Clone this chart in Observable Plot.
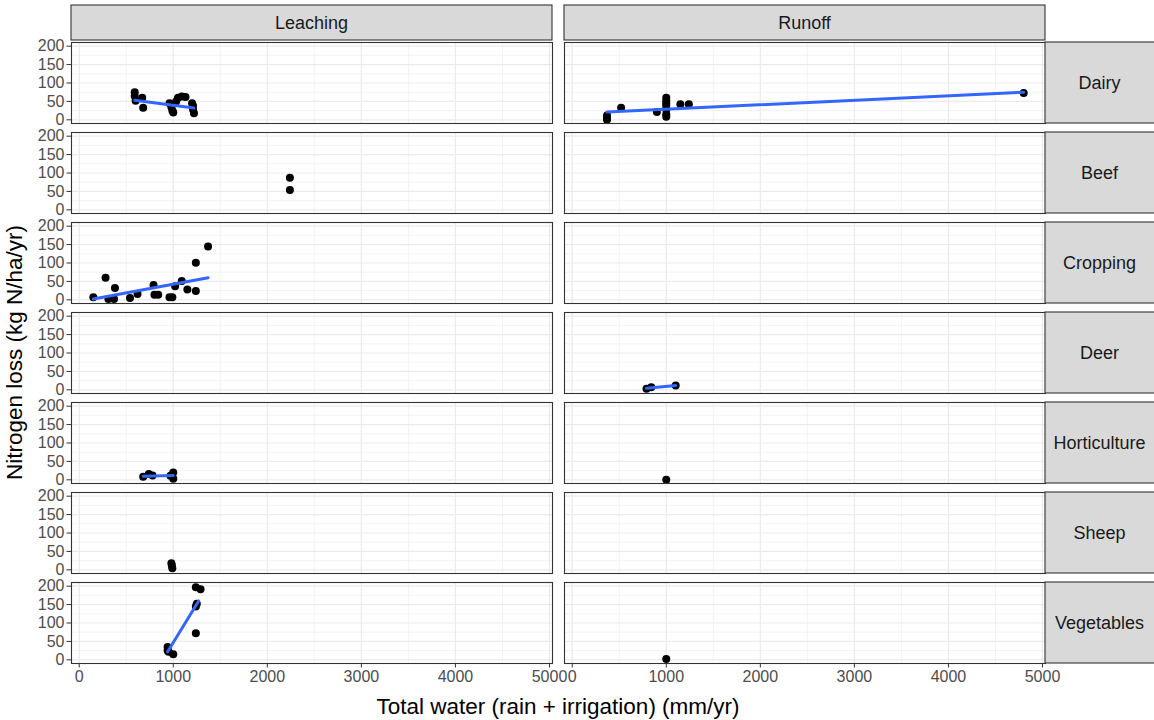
<!DOCTYPE html>
<html><head><meta charset="utf-8">
<script src="https://cdn.jsdelivr.net/npm/d3@7"></script>
<script src="https://cdn.jsdelivr.net/npm/@observablehq/plot@0.6"></script>
<style>
body{margin:0;background:#fff}
#chart{width:1154px;height:720px;position:relative}
svg{overflow:visible}
</style>
</head><body><div id="chart"></div>
<script>
// ---- categories and ticks ----
const lossTypes = ["Leaching", "Runoff"];
const systems = ["Dairy", "Beef", "Cropping", "Deer", "Horticulture", "Sheep", "Vegetables"];
const xTicks = [0, 1000, 2000, 3000, 4000, 5000];
const xMinorTicks = [500, 1500, 2500, 3500, 4500];
const yTicks = [0, 50, 100, 150, 200];
const yMinorTicks = [25, 75, 125, 175];
const xTitle = "Total water (rain + irrigation) (mm/yr)";
const yTitle = "Nitrogen loss (kg N/ha/yr)";

// ---- observations [total water, N loss] ----
const dairyLeaching = [[590,75],[590,65],[600,52],[670,60],[680,33],[960,45],[980,35],[990,25],[1000,20],[1030,50],[1050,60],[1090,63],[1130,62],[1200,45],[1210,38],[1210,28],[1220,18]];
const dairyRunoff = [[370,0],[370,5],[370,12],[520,33],[900,21],[1000,60],[1000,52],[1000,45],[1000,38],[1000,28],[1000,15],[1000,8],[1150,42],[1240,42],[4800,73]];
const beefLeaching = [[2240,87],[2240,54]];
const croppingLeaching = [[150,7],[280,60],[310,2],[370,2],[380,32],[540,5],[620,16],[790,40],[800,14],[840,14],[960,7],[990,7],[1020,37],[1090,51],[1150,28],[1240,101],[1240,24],[1370,145]];
const deerRunoff = [[790,3],[840,7],[1100,12]];
const horticultureLeaching = [[680,8],[740,16],[780,12],[970,11],[1000,20],[1000,3]];
const horticultureRunoff = [[1000,0]];
const sheepLeaching = [[980,18],[985,12],[990,4]];
const vegetablesLeaching = [[940,35],[940,25],[950,22],[1000,15],[1240,72],[1240,145],[1250,152],[1240,197],[1290,192]];
const vegetablesRunoff = [[1000,2]];

// ---- fitted linear trends (end points) ----
const dairyLeachingFit = [[590,53],[1220,32]];
const dairyRunoffFit = [[370,21],[4800,75]];
const croppingLeachingFit = [[150,2],[1370,60]];
const deerRunoffFit = [[790,4],[1100,12]];
const horticultureLeachingFit = [[680,10],[1000,12]];
const vegetablesLeachingFit = [[940,22],[1270,160]];

const pointSets = [
  ["Leaching","Dairy",dairyLeaching],["Runoff","Dairy",dairyRunoff],
  ["Leaching","Beef",beefLeaching],["Leaching","Cropping",croppingLeaching],
  ["Runoff","Deer",deerRunoff],["Leaching","Horticulture",horticultureLeaching],
  ["Runoff","Horticulture",horticultureRunoff],["Leaching","Sheep",sheepLeaching],
  ["Leaching","Vegetables",vegetablesLeaching],["Runoff","Vegetables",vegetablesRunoff]
];
const fitSets = [
  ["Leaching","Dairy",dairyLeachingFit],["Runoff","Dairy",dairyRunoffFit],
  ["Leaching","Cropping",croppingLeachingFit],["Runoff","Deer",deerRunoffFit],
  ["Leaching","Horticulture",horticultureLeachingFit],["Leaching","Vegetables",vegetablesLeachingFit]
];
const points = pointSets.flatMap(([type, system, arr]) => arr.map(([water, loss]) => ({type, system, water, loss})));
const fits = fitSets.flatMap(([type, system, arr]) => arr.map(([water, loss]) => ({id: type + system, type, system, water, loss})));

const cells = lossTypes.flatMap(type => systems.map(system => ({type, system})));
const gridOf = vals => cells.flatMap(c => vals.map(v => ({...c, v})));

const font = "'Liberation Sans', Arial, sans-serif";
const W = 1154, H = 720, mL = 71, mR = 109, mT = 40, mB = 55;

const plot = Plot.plot({
  width: W, height: H,
  marginTop: mT, marginRight: mR, marginBottom: mB, marginLeft: mL,
  style: {fontFamily: font, background: "#fff", overflow: "visible"},
  fx: {domain: lossTypes, paddingInner: 0.0245, paddingOuter: 0, axis: null, label: null},
  fy: {domain: systems, paddingInner: 0.1, paddingOuter: 0, axis: null, label: null},
  x: {domain: [-82, 5032], label: null},
  y: {domain: [-10, 210], label: null},
  marks: [
    Plot.ruleX(gridOf(xMinorTicks), {x: "v", fx: "type", fy: "system", stroke: "#ebebeb", strokeWidth: 0.6}),
    Plot.ruleY(gridOf(yMinorTicks), {y: "v", fx: "type", fy: "system", stroke: "#ebebeb", strokeWidth: 0.6}),
    Plot.ruleX(gridOf(xTicks), {x: "v", fx: "type", fy: "system", stroke: "#ebebeb", strokeWidth: 1.2}),
    Plot.ruleY(gridOf(yTicks), {y: "v", fx: "type", fy: "system", stroke: "#ebebeb", strokeWidth: 1.2}),
    Plot.dot(points, {x: "water", y: "loss", fx: "type", fy: "system", r: 4, fill: "#000", stroke: null}),
    Plot.line(fits, {x: "water", y: "loss", z: "id", fx: "type", fy: "system", stroke: "#3366FF", strokeWidth: 3}),
    Plot.frame({stroke: "#333333", strokeWidth: 1.1}),
    Plot.axisX({anchor: "bottom", facetAnchor: "bottom", ticks: xTicks, tickFormat: "d", label: null,
      tickSize: 4.5, tickPadding: 3, fontSize: 16, fill: "#4d4d4d", stroke: "#333333"}),
    Plot.axisY({anchor: "left", facetAnchor: "left", ticks: yTicks, tickFormat: "d", label: null,
      tickSize: 4.5, tickPadding: 2.5, fontSize: 16, fill: "#4d4d4d", stroke: "#333333"})
  ]
});

document.getElementById("chart").appendChild(plot);

// ---- facet strips and axis titles ----
function bandInfo(name, domain, range, pin) {
  const s = plot.scale(name);
  if (s && typeof s.apply === "function" && s.bandwidth != null) return {pos: v => s.apply(v), bw: s.bandwidth};
  const b = d3.scaleBand().domain(domain).range(range).paddingInner(pin).paddingOuter(0);
  return {pos: v => b(v), bw: b.bandwidth()};
}
const FX = bandInfo("fx", lossTypes, [mL, W - mR], 0.0245);
const FY = bandInfo("fy", systems, [mT, H - mB], 0.1);
const svg = d3.select(plot);
const strips = svg.append("g").attr("font-family", font);
for (const t of lossTypes) {
  const x0 = FX.pos(t);
  strips.append("rect").attr("x", x0).attr("y", 5).attr("width", FX.bw).attr("height", mT - 5)
    .attr("fill", "#d9d9d9").attr("stroke", "#333333").attr("stroke-width", 1.1);
  strips.append("text").attr("x", x0 + FX.bw / 2).attr("y", (5 + mT) / 2).attr("dy", "0.35em")
    .attr("text-anchor", "middle").attr("font-size", 18).attr("fill", "#1a1a1a").text(t);
}
const xRight = FX.pos("Runoff") + FX.bw;
for (const s of systems) {
  const y0 = FY.pos(s);
  strips.append("rect").attr("x", xRight).attr("y", y0).attr("width", W - xRight + 2).attr("height", FY.bw)
    .attr("fill", "#d9d9d9").attr("stroke", "#333333").attr("stroke-width", 1.1);
  strips.append("text").attr("x", (xRight + W) / 2).attr("y", y0 + FY.bw / 2).attr("dy", "0.35em")
    .attr("text-anchor", "middle").attr("font-size", 18).attr("fill", "#1a1a1a").text(s);
}
svg.append("text").attr("x", (mL + xRight) / 2).attr("y", 714).attr("text-anchor", "middle")
  .attr("font-family", font).attr("font-size", 22.5).attr("fill", "#000").text(xTitle);
svg.append("text").attr("transform", `translate(22,${(mT + H - mB) / 2}) rotate(-90)`).attr("text-anchor", "middle")
  .attr("font-family", font).attr("font-size", 22.5).attr("fill", "#000").text(yTitle);
</script>
</body></html>
